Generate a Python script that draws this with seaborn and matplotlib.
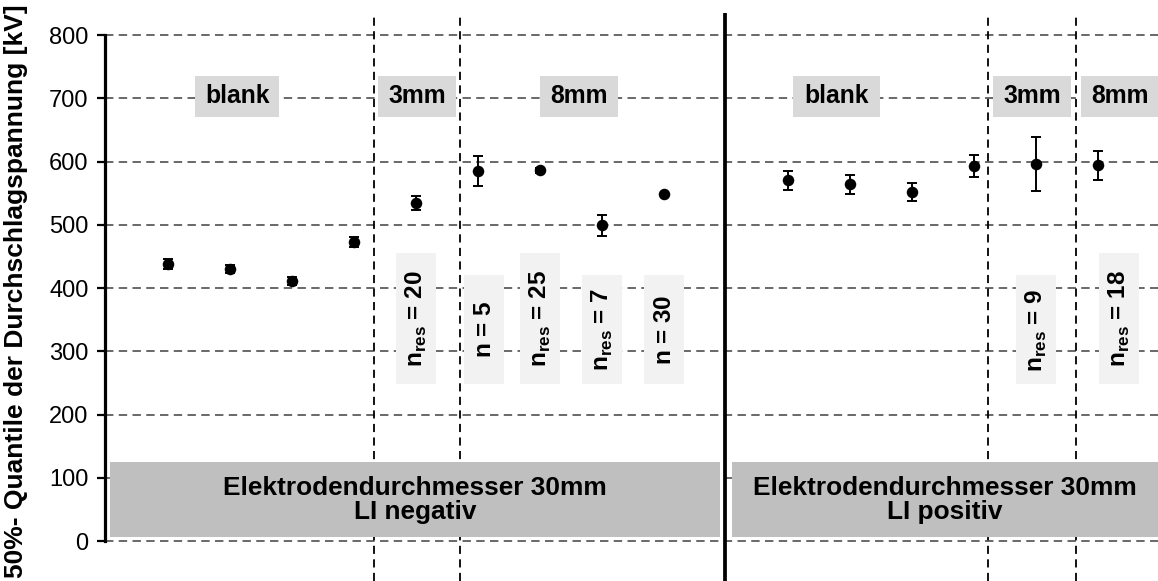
import matplotlib
matplotlib.use("Agg")
import matplotlib.pyplot as plt
from matplotlib.patches import Rectangle
import numpy as np
import seaborn as sns

# 50 % breakdown-voltage quantiles with their confidence half-widths (kV)
polarity = ["negativ"] * 9 + ["positiv"] * 6
spacer = ["blank"] * 4 + ["3mm"] + ["8mm"] * 4 + ["blank"] * 4 + ["3mm"] + ["8mm"]
u50 = [438, 430, 411, 473, 535, 585, 586, 499, 549, 570, 564, 552, 593, 596, 594]
u50_err = [8.5, 7, 7, 8, 11, 23, 4, 17, 0, 15.5, 15, 14, 17, 42.5, 23]

# sample-size notes: (subscript, count) per measurement, None where no note is drawn
sample_note = [None] * 4 + [("res", "20"), ("", "5"), ("res", "25"), ("res", "7"), ("", "30")] \
    + [None] * 4 + [("res", "9"), ("res", "18")]

y_ticks = [0, 100, 200, 300, 400, 500, 600, 700, 800]
y_label = "50%- Quantile der Durchschlagspannung [kV]"
panel_titles = ["Elektrodendurchmesser 30mm\nLI negativ", "Elektrodendurchmesser 30mm\nLI positiv"]

sns.set_theme(style="white")
plt.rcParams["font.family"] = ["Liberation Sans", "DejaVu Sans"]
plt.rcParams["mathtext.fontset"] = "custom"
plt.rcParams["mathtext.bf"] = "Liberation Sans:bold"
plt.rcParams["mathtext.rm"] = "Liberation Sans"

fig = plt.figure(figsize=(11.58, 5.81), dpi=100)
ax = fig.add_axes([105 / 1158, 0, 1 - 105 / 1158, 1 - 13 / 581])

# one slot per measurement, with an empty slot between the two polarities
pos = np.arange(len(u50)) + (np.array(polarity) == "positiv").astype(int)

ax.set_xlim(-1.02, 15.97)
ax.set_ylim(-63.2, 834.8)

# horizontal dashed grid
for v in y_ticks:
    ax.axhline(v, color="#404040", lw=1.1, ls=(0, (5.5, 3.5)), zorder=1)

# group separators
for xs in [3.32, 4.70, 13.22, 14.64]:
    ax.axvline(xs, color="black", lw=1.3, ls=(0, (4.5, 3.0)), zorder=1.5)
ax.axvline(8.98, color="black", lw=2.7, zorder=2)

# group header boxes
headers = [("blank", 0.435, 1.79), ("3mm", 3.39, 4.65), ("8mm", 6.0, 7.26),
           ("blank", 10.08, 11.48), ("3mm", 13.31, 14.56), ("8mm", 14.73, 15.97)]
for txt, x0, x1 in headers:
    ax.add_patch(Rectangle((x0, 671), x1 - x0, 64, fc="#d9d9d9", ec="none", zorder=3))
    ax.text((x0 + x1) / 2, 703, txt, ha="center", va="center", fontsize=17.8,
            fontweight="bold", color="black", zorder=4)

# sample-size note boxes
note_shift = {5: 0.1, 14: 0.34}
for i, note in enumerate(sample_note):
    if note is None:
        continue
    sub, cnt = note
    cx = pos[i] + note_shift.get(i, 0.0)
    tall = len(sub) > 0 and len(cnt) > 1
    top = 455 if tall else 420
    ax.add_patch(Rectangle((cx - 0.3225, 248), 0.645, top - 248, fc="#f2f2f2",
                           ec="none", zorder=3))
    label = (r"$\mathbf{n}_{\mathbf{res}}$" if sub else r"$\mathbf{n}$") + " = " + cnt
    ax.text(cx, (248 + top) / 2, label, rotation=90, ha="center", va="center",
            rotation_mode="anchor", fontsize=17.5, fontweight="bold", color="black", zorder=4)

# polarity panels at the bottom
for (x0, x1), title in zip([(-0.935, 8.90), (9.10, 15.97)], panel_titles):
    ax.add_patch(Rectangle((x0, 6), x1 - x0, 119, fc="#bfbfbf", ec="none", zorder=3))
    ax.text((x0 + x1) / 2, 65, title, ha="center", va="center", fontsize=18.9,
            fontweight="bold", color="black", linespacing=1.0, zorder=4)

# measurements with error bars
ax.errorbar(pos, u50, yerr=u50_err, fmt="none", ecolor="black", elinewidth=1.4,
            capsize=3.9, capthick=1.4, zorder=5)
sns.scatterplot(x=pos, y=u50, color="black", s=8.3 ** 2, edgecolor="black",
                linewidth=0, ax=ax, zorder=6, legend=False)

for side in ["top", "right", "bottom"]:
    ax.spines[side].set_visible(False)
ax.spines["left"].set_bounds(0, 800)
ax.spines["left"].set_linewidth(2.3)
ax.spines["left"].set_color("black")
ax.set_xticks([])
ax.set_yticks(y_ticks)
ax.tick_params(axis="y", length=5.8, width=1.6, pad=6, labelsize=17, colors="black", left=True)
ax.set_xlabel("")
ax.set_ylabel("")

fig.text(16 / 1158, 0.498, y_label, rotation=90, ha="center", va="center",
         fontsize=19, fontweight="bold", color="black")

fig.savefig("out.png", dpi=100)
